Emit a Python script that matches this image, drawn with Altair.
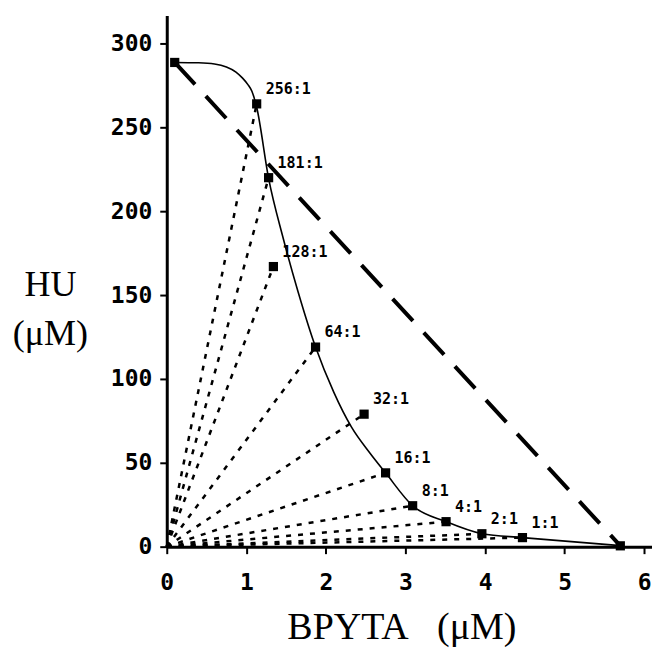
import altair as alt
import pandas as pd

# Combination points (BPYTA µM, HU µM) and their ratio labels
ratio_labels = ["256:1", "181:1", "128:1", "64:1", "32:1", "16:1", "8:1", "4:1", "2:1", "1:1"]
combo_bpyta = [1.13, 1.28, 1.34, 1.87, 2.48, 2.75, 3.09, 3.51, 3.96, 4.47]
combo_hu = [264.0, 220.0, 167.0, 119.0, 79.0, 44.0, 24.4, 14.9, 7.7, 5.4]

# Single-agent end points
hu_alone = [0.10, 288.7]
bpyta_alone = [5.70, 0.5]

# Smooth (solid) isobole curve
curve_bpyta = [0.10, 0.40, 0.60, 0.75, 0.87, 0.95, 1.02, 1.07, 1.13, 1.28, 1.46, 1.65, 1.87, 2.10, 2.32, 2.55, 2.75, 3.09, 3.51, 3.96, 4.47, 5.70]
curve_hu = [288.7, 288.5, 287.8, 286.0, 283.0, 279.5, 275.5, 271.5, 262.0, 219.6, 184.5, 152.0, 119.0, 92.0, 71.4, 56.0, 44.0, 24.4, 14.9, 7.7, 5.4, 0.6]

x_ticks = [0, 1, 2, 3, 4, 5, 6]
y_ticks = [0, 50, 100, 150, 200, 250, 300]

X_MAX = 6.098
Y_MAX = 316.7

xs = alt.Scale(domain=[0, X_MAX], nice=False, zero=False)
ys = alt.Scale(domain=[0, Y_MAX], nice=False, zero=False)

pts = pd.DataFrame({"x": combo_bpyta, "y": combo_hu, "label": ratio_labels})
ends = pd.DataFrame({"x": [hu_alone[0], bpyta_alone[0]], "y": [hu_alone[1], bpyta_alone[1]], "label": ["", ""]})
squares = pd.concat([ends.iloc[:1], pts, ends.iloc[1:]], ignore_index=True)

rays_rows = []
for lab, bx, hy in zip(ratio_labels, combo_bpyta, combo_hu):
    rays_rows.append({"ray": lab, "x": 0.0, "y": 0.0, "o": 0})
    rays_rows.append({"ray": lab, "x": bx, "y": hy, "o": 1})
rays = pd.DataFrame(rays_rows)

additive = pd.DataFrame({"x": [hu_alone[0], bpyta_alone[0]], "y": [hu_alone[1], bpyta_alone[1]]})
curve = pd.DataFrame({"x": curve_bpyta, "y": curve_hu})

FONT_TICK = "DejaVu Sans Mono"
FONT_TITLE = "Liberation Serif"

x_enc = alt.X("x:Q", scale=xs, axis=alt.Axis(
    values=x_ticks, title="BPYTA\u00a0\u00a0\u00a0(μM)", grid=False, format="d",
    titleX=235, titleY=92, titleAlign="center", titleBaseline="alphabetic",
    titleFont=FONT_TITLE, titleFontSize=38, titleFontWeight="normal", titleColor="black",
    labelFont=FONT_TICK, labelFontSize=23, labelFontWeight="bold", labelColor="black",
    labelPadding=18, tickSize=7, tickWidth=2, tickColor="black",
    domainWidth=3, domainColor="black", labelFlush=False))
y_enc = alt.Y("y:Q", scale=ys, axis=alt.Axis(
    values=y_ticks, title=["HU", "(μM)"], grid=False, format="d",
    titleAngle=0, titleX=-117, titleY=280, titleAlign="center", titleBaseline="alphabetic",
    titleLineHeight=50,
    titleFont=FONT_TITLE, titleFontSize=36, titleFontWeight="normal", titleColor="black",
    labelFont=FONT_TICK, labelFontSize=23, labelFontWeight="bold", labelColor="black",
    labelPadding=8, tickSize=7, tickWidth=2, tickColor="black",
    domainWidth=3, domainColor="black", labelFlush=False))

ray_layer = alt.Chart(rays).mark_line(color="black", strokeWidth=2.5, strokeDash=[5, 7]).encode(
    x=x_enc, y=y_enc, detail="ray:N", order="o:Q")

add_layer = alt.Chart(additive).mark_line(color="black", strokeWidth=4, strokeDash=[30, 16]).encode(
    x=alt.X("x:Q", scale=xs), y=alt.Y("y:Q", scale=ys))

curve_layer = alt.Chart(curve).mark_line(color="black", strokeWidth=1.6, interpolate="monotone").encode(
    x=alt.X("x:Q", scale=xs), y=alt.Y("y:Q", scale=ys))

sq_layer = alt.Chart(squares).mark_square(color="black", size=85, opacity=1, filled=True).encode(
    x=alt.X("x:Q", scale=xs), y=alt.Y("y:Q", scale=ys))

lab_layer = alt.Chart(pts).mark_text(
    align="left", baseline="middle", dx=9, dy=-15, font=FONT_TICK, fontSize=15,
    fontWeight="bold", color="black").encode(
    x=alt.X("x:Q", scale=xs), y=alt.Y("y:Q", scale=ys), text="label:N")

chart = alt.layer(ray_layer, add_layer, curve_layer, sq_layer, lab_layer).properties(
    width=486, height=532,
    autosize=alt.AutoSizeParams(type="none"),
    padding={"left": 159, "top": 7, "right": 0, "bottom": 105},
    background="white",
).configure_view(stroke=None)

chart.save("out.html", embed_options={"renderer": "svg", "actions": False})
